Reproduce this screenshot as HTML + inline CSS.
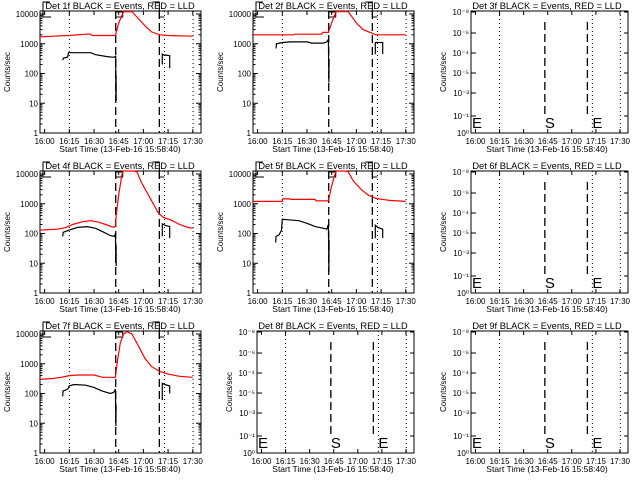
<!DOCTYPE html>
<html><head><meta charset="utf-8"><style>
body{margin:0;background:#fff;}
svg{display:block;font-family:"Liberation Sans",sans-serif;}
</style></head><body>
<svg id="c" width="640" height="480" viewBox="0 0 640 480" xmlns="http://www.w3.org/2000/svg"></svg>
<script>
// Times in minutes after 16:00; values in counts/sec
const xTickValues = [0, 15, 30, 45, 60, 75, 90];
const xTickLabels = ["16:00", "16:15", "16:30", "16:45", "17:00", "17:15", "17:30"];
const yTickValues = [1, 10, 100, 1000, 10000];
const yTickLabels = ["1", "10", "100", "1000", "10000"];
const emptyYLabels = ["10\u2070", "10\u207B\u00B9", "10\u207B\u00B3", "10\u207B\u2075", "10\u207B\u2074", "10\u207B\u2076", "10\u207B\u2078"];
const detNames = ["1f", "2f", "3f", "4f", "5f", "6f", "7f", "8f", "9f"];
const startMarkTime = 43.2;
const endMarkTime = 69.7;
const dottedTimes = [15, 72.8, 90.2];

const red1 = [[-2.8,1700],[5,1800],[15,1900],[25,2100],[28,2100],[29,1900],[43,1900],[45,5000],[48,12000],[53,12000],[57,7000],[61,4000],[65,2500],[70,2000],[75,1900],[90,1800]];
const blk1a = [[11,280],[11.5,330],[14,360],[14.5,500],[28,500],[31,430],[38,370],[42,350],[43.2,380],[43.3,15],[43.4,90],[43.5,12]];
const blk1b = [[71.5,200],[71.5,450],[72.5,420],[76,400],[76,150]];
const red2 = [[-2.8,2000],[22,2000],[22.5,2100],[39,2100],[39.5,2400],[43,2400],[45.5,6000],[47.7,12000],[55,12000],[60,5000],[64,3000],[70,2200],[72,2000],[90,2000]];
const blk2a = [[11.2,700],[11.5,1000],[15,1100],[20,1150],[30,1150],[33,1050],[40,1050],[42,1150],[43,1400],[43.3,50],[43.4,300]];
const blk2b = [[71.5,450],[71.5,1100],[76,1100],[76,450]];
const red4 = [[-2.8,130],[8,140],[13,160],[17,200],[23,250],[28,270],[33,240],[37,200],[42,160],[43,180],[43.5,400],[45,2000],[47,10000],[48,14000],[53,14000],[56,12000],[59,5000],[63,2000],[66,1000],[69,500],[72,350],[77,280],[82,200],[87,160],[90,150]];
const blk4a = [[11,80],[11.3,110],[15,130],[20,160],[26,170],[31,150],[36,110],[40,85],[42.5,80],[43,100],[43.3,10],[43.4,40],[43.5,8]];
const blk4b = [[71.5,80],[71.5,210],[73,190],[76,170],[76,70]];
const red5 = [[-2.8,1200],[15,1200],[15.2,1450],[20,1450],[20.5,1400],[35,1400],[35.5,1250],[43,1250],[45,4000],[47,10000],[48,14000],[53,14000],[55,12000],[58,6000],[63,3000],[67,2000],[72,1500],[80,1300],[90,1200]];
const blk5a = [[11,50],[11.2,80],[13,90],[14.5,130],[15,300],[18,290],[25,270],[30,220],[35,170],[40,150],[42,140],[43,200],[43.3,5],[43.4,60]];
const blk5b = [[71.5,70],[71.5,190],[73,160],[76,140],[76,70]];
const red7 = [[-2.8,300],[5,320],[10,350],[15,400],[20,420],[30,420],[33,380],[35,350],[43,350],[44,1000],[46,5000],[48,10000],[50,12000],[53,10000],[57,4000],[61,1500],[65,800],[70,550],[75,450],[82,380],[90,350]];
const blk7a = [[11,80],[11.2,120],[14,140],[15,180],[18,200],[25,190],[30,160],[35,120],[40,100],[42,110],[43,140],[43.3,8],[43.4,40]];
const blk7b = [[71.5,60],[71.5,220],[73,200],[76,180],[76,100]];

const panelRed = [red1, red2, null, red4, red5, null, red7, null, null];
const panelBlack = [[blk1a,blk1b],[blk2a,blk2b],null,[blk4a,blk4b],[blk5a,blk5b],null,[blk7a,blk7b],null,null];

const svg = document.getElementById('c');
const NS = "http://www.w3.org/2000/svg";
function mk(tag, attrs, parent){const e=document.createElementNS(NS,tag);for(const k in attrs)e.setAttribute(k,attrs[k]);(parent||svg).appendChild(e);return e;}

const T0 = -2.8, T1 = 95;
for (let p = 0; p < 9; p++) {
  const col = p % 3, row = Math.floor(p / 3);
  const ox = col === 0 ? 0 : (col === 1 ? 213 : 427);
  const oy = row * 160;
  const empty = !panelRed[p];
  const L = ox + (empty ? 44 : 40), R = ox + 201, T = oy + 11, B = oy + 133;
  const g = mk('g', {});
  
  
  const xs = t => L + (t - T0) / (T1 - T0) * (R - L);
  const ysC = v => Math.max(T, Math.min(B, oy + 133 - Math.log10(v) * 29.75));

  const title = mk('text', {x: ox + 120, y: oy + 9, 'font-size': 9.3, 'text-anchor': 'middle'}, g);
  title.textContent = 'Det ' + detNames[p] + ' BLACK = Events, RED = LLD';
  
  

  const frame = mk('rect', {x: L, y: T, width: R - L, height: B - T, fill: 'none', stroke: '#000', 'stroke-width': 1}, g);
  
  

  xTickValues.forEach((tv, i) => {
    const x = xs(tv);
    mk('line', {x1: x, y1: B, x2: x, y2: B - 4, stroke: '#000'}, g);
    mk('line', {x1: x, y1: T, x2: x, y2: T + 4, stroke: '#000'}, g);
    const lb = mk('text', {x: x, y: B + 11, 'font-size': 8, 'text-anchor': 'middle'}, g);
    lb.textContent = xTickLabels[i];
    
    
  });
  const xt = mk('text', {x: ox + 120, y: oy + 152, 'font-size': 8.5, 'text-anchor': 'middle'}, g);
  xt.textContent = 'Start Time (13-Feb-16 15:58:40)';
  
  
  const yt = mk('text', {x: 0, y: 0, 'font-size': 8, 'text-anchor': 'middle', transform: `translate(${ox + (empty ? 19 : 10)},${oy + 72}) rotate(-90)`}, g);
  yt.textContent = 'Counts/sec';
  
  

  dottedTimes.forEach(t => {
    const l = mk('line', {x1: xs(t), y1: T, x2: xs(t), y2: B, stroke: '#000', 'stroke-dasharray': '1,3'}, g);
    
    
  });
  [startMarkTime, endMarkTime].forEach(t => {
    const l = mk('line', {x1: xs(t), y1: empty ? oy + 22 : T, x2: xs(t), y2: empty ? oy + 118 : B, stroke: '#000', 'stroke-width': 1.3, 'stroke-dasharray': '8,4'}, g);
    
    
  });

  if (!empty) {
    yTickValues.forEach((v, i) => {
      const y = ysC(v);
      mk('line', {x1: L, y1: y, x2: L + 5, y2: y, stroke: '#000'}, g);
      mk('line', {x1: R, y1: y, x2: R - 5, y2: y, stroke: '#000'}, g);
      const lb = mk('text', {x: L - 2, y: y + 3, 'font-size': 8, 'text-anchor': 'end'}, g);
      lb.textContent = yTickLabels[i];
      
      
      if (i < yTickValues.length - 1) for (let m = 2; m < 10; m++) {
        const ym = ysC(v * m);
        mk('line', {x1: L, y1: ym, x2: L + 2.5, y2: ym, stroke: '#000'}, g);
        mk('line', {x1: R, y1: ym, x2: R - 2.5, y2: ym, stroke: '#000'}, g);
      }
    });
    const xe = L + 3, xsm = xs(startMarkTime), xem = xs(endMarkTime);
    const mkp = mk('path', {d: `M${xe + 7},${oy + 2} H${xe} V${oy + 17} H${xe + 8} M${xsm},${oy + 12} H${xsm + 7} V${oy + 17} H${xsm} M${xem - 7},${oy + 2} H${xem} V${oy + 17} H${xem + 5}`, fill: 'none', stroke: '#000'}, g);
    
    
    const toPts = arr => arr.map(d => xs(d[0]).toFixed(1) + ',' + ysC(d[1]).toFixed(1)).join(' ');
    const rl = mk('polyline', {points: toPts(panelRed[p]), fill: 'none', stroke: '#ff0000', 'stroke-width': 1.2}, g);
    
    
    panelBlack[p].forEach(seg => {
      const bl = mk('polyline', {points: toPts(seg), fill: 'none', stroke: '#000', 'stroke-width': 1.2}, g);
      
      
    });
  } else {
    const ey = [133, 116, 93, 73, 53, 33, 12];
    ey.forEach((y, i) => {
      mk('line', {x1: L, y1: oy + y, x2: L + 5, y2: oy + y, stroke: '#000'}, g);
      mk('line', {x1: R, y1: oy + y, x2: R - 4, y2: oy + y, stroke: '#000'}, g);
      const lb = mk('text', {x: L - 2, y: oy + y + 3, 'font-size': 8, 'text-anchor': 'end'}, g);
      lb.textContent = emptyYLabels[i];
      
      
    });
    [['E', L + 1], ['S', xs(startMarkTime)], ['E', xs(endMarkTime) + 5]].forEach(m => {
      const tx = mk('text', {x: m[1], y: oy + 128, 'font-size': 15}, g);
      tx.textContent = m[0];
      
      
    });
  }
}
</script>
</body></html>
